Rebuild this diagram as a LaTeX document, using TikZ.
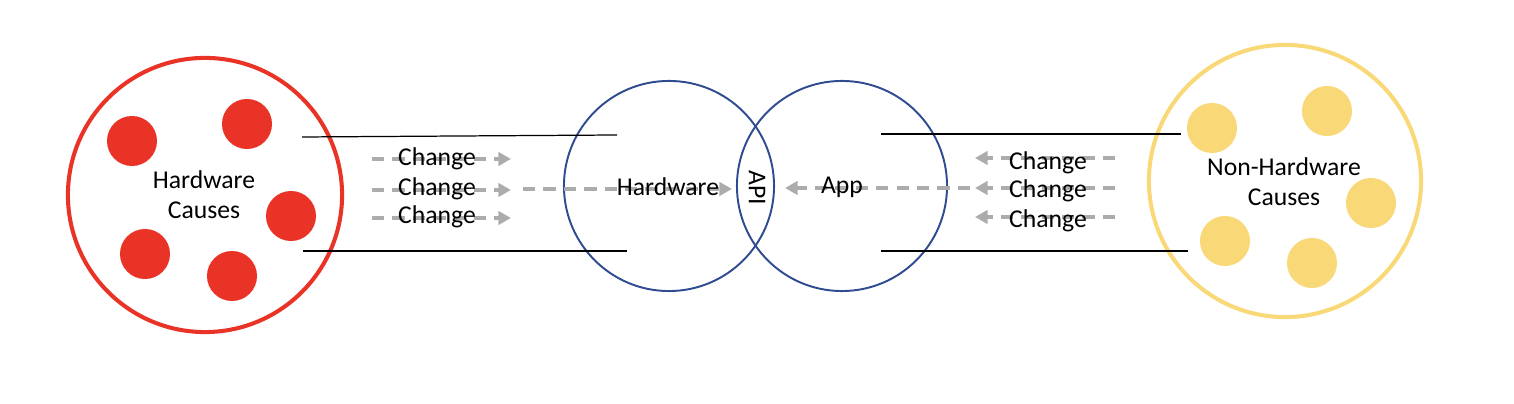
\documentclass[tikz,border=0pt]{standalone}
\usepackage{fontspec}
\setmainfont{Carlito}
\usetikzlibrary{arrows.meta}
\definecolor{causered}{RGB}{233,51,38}
\definecolor{causeyellow}{RGB}{249,216,120}
\definecolor{layerblue}{RGB}{47,75,145}
\definecolor{changegray}{RGB}{172,172,172}

\begin{document}
\begin{tikzpicture}[
  x=0.01cm, y=-0.01cm,
  every node/.style={inner sep=1pt, font=\fontsize{7.3}{8.5}\selectfont},
  hwring/.style={circle, draw=causered, line width=1.15pt, minimum size=2.74cm, inner sep=0pt},
  nhwring/.style={circle, draw=causeyellow, line width=1.15pt, minimum size=2.72cm, inner sep=0pt},
  hwdot/.style={circle, fill=causered, minimum size=0.5cm, inner sep=0pt},
  nhwdot/.style={circle, fill=causeyellow, minimum size=0.5cm, inner sep=0pt},
  layer/.style={circle, draw=layerblue, line width=0.55pt, minimum size=2.10cm, inner sep=0pt},
  bound/.style={draw, line width=0.35pt},
  change/.style={draw=changegray, line width=0.9pt, dash pattern=on 3.5pt off 2.3pt,
    -{Triangle[length=3.6pt, width=3.8pt, fill=changegray]}},
  lbl/.style={align=center}]

  \useasboundingbox (0,0) rectangle (1514,404);

  %% ---------------- hardware causes ----------------
  \node[hwring] (hwc) at (205,195) {};
  \node[hwdot] (hd1) at (132,141) {};
  \node[hwdot] (hd2) at (247,124) {};
  \node[hwdot] (hd3) at (291,216) {};
  \node[hwdot] (hd4) at (145,254) {};
  \node[hwdot] (hd5) at (232,276) {};
  \node[lbl] (hwcl) at (204,195) {Hardware\\Causes};

  %% ---------------- non-hardware causes ----------------
  \node[nhwring] (nhc) at (1285,181) {};
  \node[nhwdot] (nd1) at (1212,128) {};
  \node[nhwdot] (nd2) at (1327,111) {};
  \node[nhwdot] (nd3) at (1371,203) {};
  \node[nhwdot] (nd4) at (1225,241) {};
  \node[nhwdot] (nd5) at (1312,263) {};
  \node[lbl] (nhcl) at (1284,182) {Non-Hardware\\Causes};

  %% ---------------- hardware / app layers ----------------
  \node[layer] (hwl) at (669,186) {};
  \node[layer] (appl) at (842,186) {};

  % channel boundaries
  \coordinate (ltA) at (302,137);
  \coordinate (ltB) at (617,135);
  \coordinate (lbA) at (303,251);
  \coordinate (lbB) at (627,251);
  \coordinate (rtA) at (881,134);
  \coordinate (rtB) at (1181,134);
  \coordinate (rbA) at (881,251);
  \coordinate (rbB) at (1188,251);
  \draw[bound] (ltA) -- (ltB);
  \draw[bound] (lbA) -- (lbB);
  \draw[bound] (rtA) -- (rtB);
  \draw[bound] (rbA) -- (rbB);

  % changes coming in from the hardware side
  \coordinate (lc1s) at (372,159);
  \coordinate (lc1e) at (511,159);
  \coordinate (lc2s) at (372,190);
  \coordinate (lc2e) at (511,190);
  \coordinate (lc3s) at (372,218);
  \coordinate (lc3e) at (511,218);
  \draw[change] (lc1s) -- (lc1e);
  \draw[change] (lc2s) -- (lc2e);
  \draw[change] (lc3s) -- (lc3e);
  \coordinate (lmid) at (523,189);
  \coordinate (apiL) at (732,189);
  \draw[change] (lmid) -- (apiL);
  \node (lt1) at (437,159) {Change};
  \node (lt2) at (437,189) {Change};
  \node (lt3) at (437,217) {Change};

  % changes coming in from the non-hardware side
  \coordinate (rc1s) at (1115,158);
  \coordinate (rc1e) at (975,158);
  \coordinate (rc2s) at (1115,188);
  \coordinate (rc2e) at (975,188);
  \coordinate (rc3s) at (1115,217);
  \coordinate (rc3e) at (975,217);
  \draw[change] (rc1s) -- (rc1e);
  \draw[change] (rc2s) -- (rc2e);
  \draw[change] (rc3s) -- (rc3e);
  \coordinate (rmid) at (970,188);
  \coordinate (apiR) at (785,188);
  \draw[change] (rmid) -- (apiR);
  \node (rt1) at (1048,163) {Change};
  \node (rt2) at (1048,191) {Change};
  \node (rt3) at (1048,221) {Change};

  % layer labels
  \node (hwt) at (668,187) {Hardware};
  \node (appt) at (842,187) {App};
  \node[rotate=-90] (apit) at (757,188) {API};

\end{tikzpicture}
\end{document}
